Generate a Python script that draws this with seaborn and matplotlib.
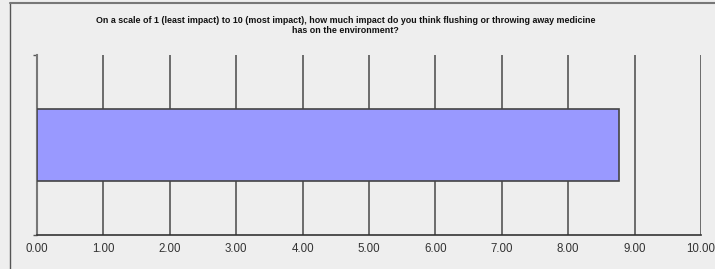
import numpy as np
import matplotlib
matplotlib.use("Agg")
import matplotlib.pyplot as plt
from matplotlib.lines import Line2D
import seaborn as sns
import pandas as pd

title = ("On a scale of 1 (least impact) to 10 (most impact), how much impact do you think flushing or throwing away medicine\n"
         "has on the environment?")
categories = ["Impact"]
values = [8.77]
x_ticks = [0, 1, 2, 3, 4, 5, 6, 7, 8, 9, 10]

sns.set_style("white")
plt.rcParams["font.family"] = ["Liberation Sans", "DejaVu Sans"]

bg = "#eeeeee"
df = pd.DataFrame({"category": categories, "value": values})

fig = plt.figure(figsize=(7.15, 2.69), dpi=100, facecolor=bg)
ax = fig.add_axes([37 / 715, 34 / 269, 664 / 715, 180 / 269])
ax.set_facecolor(bg)

sns.barplot(data=df, x="value", y="category", orient="h", color="#9999ff",
            saturation=1, width=0.4, edgecolor="#444444", linewidth=1.2, ax=ax, zorder=3)

ax.set_xlim(0, 10)
ax.set_ylim(0.5, -0.5)
ax.set_xticks(x_ticks)
ax.set_xticklabels([f"{t:.2f}" for t in x_ticks], fontsize=8.3, color="#333333")
ax.set_yticks([-0.5, 0.5])
ax.set_yticklabels([])
ax.tick_params(axis="x", length=0, pad=6)
ax.tick_params(axis="y", length=3, width=1, color="#555555", left=True)
for x in x_ticks[1:]:
    ax.axvline(x, color="#555555", linewidth=1.2, zorder=1)
ax.set_xlabel("")
ax.set_ylabel("")
for s in ["top", "right"]:
    ax.spines[s].set_visible(False)
ax.spines["left"].set_color("#777777")
ax.spines["left"].set_linewidth(1.5)
ax.spines["bottom"].set_color("#333333")
ax.spines["bottom"].set_linewidth(1.2)

fig.text(0.483, 0.905, title, ha="center", va="center", fontsize=6.4,
         fontweight="bold", color="#111111", linespacing=1.25)

# outer frame of the chart area
fig.add_artist(Line2D([9.5 / 715, 9.5 / 715], [0, 1 - 2.5 / 269], transform=fig.transFigure,
                      color="#555555", linewidth=1))
fig.add_artist(Line2D([9.5 / 715, 1], [1 - 2.5 / 269, 1 - 2.5 / 269], transform=fig.transFigure,
                      color="#777777", linewidth=1.5))

fig.savefig("out.png", dpi=100, facecolor=bg)
